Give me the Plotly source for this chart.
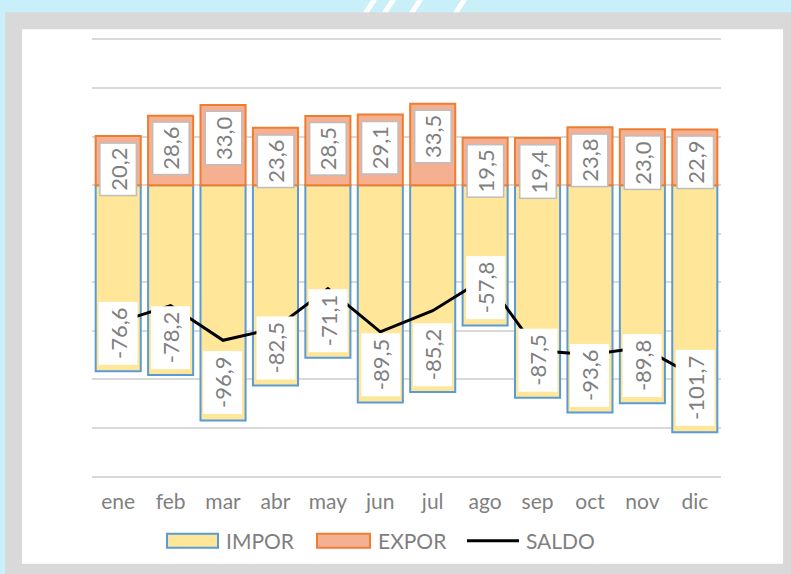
import plotly.graph_objects as go

months = ['ene', 'feb', 'mar', 'abr', 'may', 'jun', 'jul', 'ago', 'sep', 'oct', 'nov', 'dic']
expor = [20.2, 28.6, 33.0, 23.6, 28.5, 29.1, 33.5, 19.5, 19.4, 23.8, 23.0, 22.9]
impor = [-76.6, -78.2, -96.9, -82.5, -71.1, -89.5, -85.2, -57.8, -87.5, -93.6, -89.8, -101.7]
saldo = [-56.4, -49.6, -63.9, -58.9, -42.6, -60.4, -51.7, -38.3, -68.1, -69.8, -66.8, -78.8]

FONT = 'Lato'
TXT = '#7f7f7f'
W, H = 791, 574
PXU = (476.7 - 39.3) / 180.0  # pixels per unit
L, R = 92, 721
T, B = 39.3 - PXU, 476.7 + PXU
PW, PH = R - L, B - T


def px(x):
    return (x - L) / PW


def py(y):
    return (B - y) / PH


def fmt(v):
    return f"{v:.1f}".replace('.', ',')


fig = go.Figure()
fig.add_trace(go.Bar(
    x=months, y=impor, name='IMPOR',
    marker=dict(color='#ffe699', line=dict(color='#5b9bd5', width=2)),
))
fig.add_trace(go.Bar(
    x=months, y=expor, name='EXPOR',
    marker=dict(color='#f5b092', line=dict(color='#ed7d31', width=2)),
))
fig.add_trace(go.Scatter(
    x=months, y=saldo, name='SALDO', mode='lines',
    line=dict(color='#000000', width=3),
))

annotations = []
for m, v in zip(months, expor):
    annotations.append(dict(
        x=m, y=v, xref='x', yref='y', text=fmt(v), showarrow=False,
        textangle=-90, yanchor='top', xanchor='center', yshift=-6,
        font=dict(family=FONT, size=22, color=TXT),
        bgcolor='#ffffff', bordercolor='#bdbdbd', borderwidth=1.5, borderpad=4,
    ))
for m, v in zip(months, impor):
    annotations.append(dict(
        x=m, y=v, xref='x', yref='y', text=fmt(v), showarrow=False,
        textangle=-90, yanchor='bottom', xanchor='center', yshift=6,
        font=dict(family=FONT, size=22, color=TXT),
        bgcolor='#ffffff', borderwidth=0, borderpad=6,
    ))

# custom legend
leg_y = 541
items = [
    ('IMPOR', 167, 218, 224, 'bar', '#ffe699', '#5b9bd5'),
    ('EXPOR', 317, 370, 376, 'bar', '#f5b092', '#ed7d31'),
    ('SALDO', 467, 519, 524, 'line', '#000000', '#000000'),
]
shapes = []
# background frame
shapes.append(dict(type='rect', xref='paper', yref='paper', layer='below',
                   x0=px(5), x1=px(800), y0=py(12), y1=py(590),
                   fillcolor='#d9d9d9', line=dict(width=0)))
shapes.append(dict(type='rect', xref='paper', yref='paper', layer='below',
                   x0=px(22), x1=px(783), y0=py(29), y1=py(564),
                   fillcolor='#ffffff', line=dict(width=0)))
for bx in [363, 382, 409, 453]:
    path = (f"M {px(bx)},{py(12)} L {px(bx + 6)},{py(12)} "
            f"L {px(bx + 14)},{py(0)} L {px(bx + 8)},{py(0)} Z")
    shapes.append(dict(type='path', xref='paper', yref='paper', layer='below',
                       path=path, fillcolor='#ffffff', line=dict(width=0)))

for name, x0, x1, tx, kind, fill, border in items:
    if kind == 'bar':
        shapes.append(dict(type='rect', xref='paper', yref='paper',
                           x0=px(x0), x1=px(x1), y0=py(leg_y - 7), y1=py(leg_y + 7),
                           fillcolor=fill, line=dict(color=border, width=2)))
    else:
        shapes.append(dict(type='line', xref='paper', yref='paper',
                           x0=px(x0), x1=px(x1), y0=py(leg_y), y1=py(leg_y),
                           line=dict(color=fill, width=3)))
    annotations.append(dict(
        x=px(tx), y=py(leg_y), xref='paper', yref='paper', text=name,
        showarrow=False, xanchor='left', yanchor='middle',
        font=dict(family=FONT, size=21, color=TXT),
    ))

fig.update_layout(
    width=W, height=H,
    margin=dict(l=L, r=W - R, t=T, b=H - B),
    paper_bgcolor='#c9eff9',
    plot_bgcolor='rgba(0,0,0,0)',
    barmode='relative',
    bargap=0.14,
    showlegend=False,
    annotations=annotations,
    shapes=shapes,
    font=dict(family=FONT, color=TXT),
    xaxis=dict(
        showgrid=False, zeroline=False, showline=False, ticks='',
        tickfont=dict(family=FONT, size=21, color=TXT),
        ticklabelstandoff=8, fixedrange=True,
    ),
    yaxis=dict(
        range=[-121, 61], dtick=20, tick0=0, showticklabels=False,
        gridcolor='#d9d9d9', gridwidth=1.5, zeroline=False, showline=False,
        fixedrange=True,
    ),
)

fig.write_html("out.html", config={'displayModeBar': False},
               post_script="document.body.style.margin='0';document.body.style.background='#c9eff9';")
